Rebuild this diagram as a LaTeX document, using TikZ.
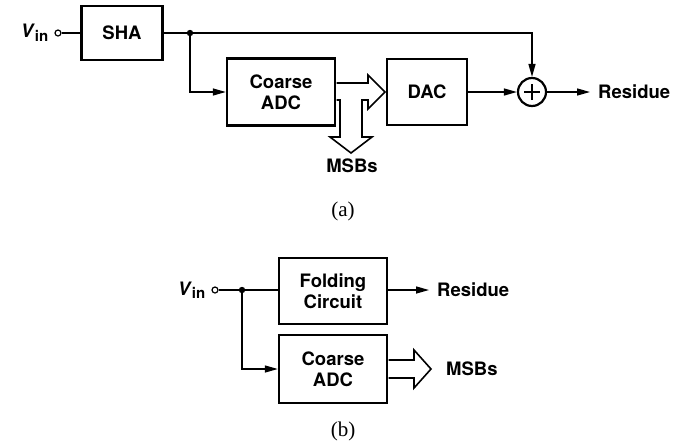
\documentclass[tikz,border=0pt]{standalone}
\usepackage{fontspec}
\setmainfont{Liberation Serif}
\newfontfamily\helv{TeX Gyre Heros}
\usetikzlibrary{positioning,calc,arrows.meta}

\begin{document}
\begin{tikzpicture}[
    x=1pt, y=-1pt,
    blk/.style={draw, line width=2.4pt, align=center, font=\helv\bfseries\fontsize{18.5}{21}\selectfont},
    lbl/.style={font=\helv\bfseries\fontsize{18.5}{21}\selectfont, inner sep=0pt},
    sublbl/.style={font=\fontsize{21}{21}\selectfont},
    term/.style={draw, circle, line width=1.2pt, inner sep=0pt, minimum size=6pt, fill=white},
    arr/.style={-{Triangle[length=13pt,width=7pt]}, line width=1.4pt},
    wire/.style={line width=1.4pt},
    fat/.style={draw, line width=1.6pt, fill=white, line join=miter}
]
    \useasboundingbox (0,0) rectangle (676,445);

    % (a) two-step with residue
    \node[term] (vina) at (58,33) {};
    \node[lbl, left=6pt of vina] (vinalab) {\textit{V}\raisebox{-.35ex}{\fontsize{15}{15}\selectfont in}};
    \node[blk, minimum width=81pt, minimum height=54pt] (sha) at (122,33) {SHA};
    \node[blk, minimum width=108pt, minimum height=67pt] (cadc) at (281,92) {Coarse\\ADC};
    \node[blk, minimum width=80pt, minimum height=66pt] (dac) at (427,92) {DAC};
    \node[draw, circle, line width=2.2pt, minimum size=28pt, inner sep=0pt,
          path picture={\draw[line width=2.2pt] (path picture bounding box.center) ++(-8pt,0) -- ++(16pt,0)
                        (path picture bounding box.center) ++(0,-8pt) -- ++(0,16pt);}] (sum) at (532,92) {};
    \node[lbl, anchor=west] (resa) at (598,92) {Residue};
    \node[lbl] (msba) at (352,166) {MSBs};
    \node[sublbl] (capa) at (343,211) {(a)};
    \coordinate (ja) at (190,33);

    \draw[wire] (vina) -- (sha.west);
    \draw[arr] (sha.east) -| (sum.north);
    \draw[arr] (ja) |- (cadc.west);
    \draw[arr] (dac.east) -- (sum.west);
    \draw[arr] (sum.east) -- ($(resa.west)+(-8,0)$);
    \fill (ja) circle (3.2pt);
    \filldraw[fat] (336.5,83) -- (368,83) -- (368,75) -- (385,92) -- (368,109) -- (368,100) -- (362,100)
        -- (362,137) -- (372,137) -- (351,153) -- (330,137) -- (340,137) -- (340,100) -- (336.5,100);

    % (b) folding
    \node[term] (vinb) at (215,290) {};
    \node[lbl, left=6pt of vinb] (vinblab) {\textit{V}\raisebox{-.35ex}{\fontsize{15}{15}\selectfont in}};
    \node[blk, minimum width=108pt, minimum height=66pt] (fold) at (333,291) {Folding\\Circuit};
    \node[blk, minimum width=108pt, minimum height=68pt] (cadcb) at (333,369) {Coarse\\ADC};
    \node[lbl, anchor=west] (resb) at (437,290) {Residue};
    \node[lbl, anchor=west] (msbb) at (446,369) {MSBs};
    \node[sublbl] (capb) at (343,431) {(b)};
    \coordinate (jb) at (242,290);

    \draw[wire] (vinb) -- (fold.west |- vinb);
    \draw[arr] (jb) |- (cadcb.west);
    \draw[arr] (fold.east |- resb) -- ($(resb.west)+(-8,0)$);
    \fill (jb) circle (3.2pt);
    \filldraw[fat] (388.5,360) -- (414,360) -- (414,350) -- (431,369) -- (414,388) -- (414,378) -- (388.5,378);
\end{tikzpicture}
\end{document}
